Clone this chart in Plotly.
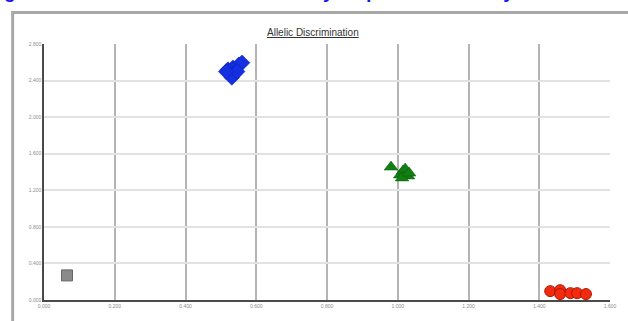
import plotly.graph_objects as go

# Allele 1 (X) vs Allele 2 (Y) fluorescence per genotype cluster
homo_y_x = [0.520, 0.534, 0.551, 0.560, 0.526, 0.540, 0.531, 0.546, 0.515]
homo_y_y = [2.520, 2.541, 2.574, 2.595, 2.466, 2.488, 2.434, 2.498, 2.498]

hetero_x = [0.981, 1.007, 1.015, 1.024, 1.029, 1.012, 1.021, 1.032]
hetero_y = [1.454, 1.368, 1.411, 1.389, 1.357, 1.335, 1.432, 1.389]

homo_x_x = [1.431, 1.459, 1.459, 1.488, 1.507, 1.532]
homo_x_y = [0.097, 0.108, 0.065, 0.075, 0.075, 0.065]

ntc_x = [0.065]
ntc_y = [0.269]

x_ticks = [0.0, 0.2, 0.4, 0.6, 0.8, 1.0, 1.2, 1.4, 1.6]
y_ticks = [0.0, 0.4, 0.8, 1.2, 1.6, 2.0, 2.4, 2.8]

fig = go.Figure()

fig.add_trace(go.Scatter(
    x=ntc_x, y=ntc_y, mode="markers",
    marker=dict(symbol="square", size=11, color="#8a8a8a",
                line=dict(color="#666666", width=1)),
))
fig.add_trace(go.Scatter(
    x=homo_y_x, y=homo_y_y, mode="markers",
    marker=dict(symbol="diamond", size=12, color="#1530e0",
                line=dict(color="#0a1ab0", width=0.5)),
))
fig.add_trace(go.Scatter(
    x=hetero_x, y=hetero_y, mode="markers",
    marker=dict(symbol="triangle-up", size=12, color="#137f13",
                line=dict(color="#0b5e0b", width=0.5)),
))
fig.add_trace(go.Scatter(
    x=homo_x_x, y=homo_x_y, mode="markers",
    marker=dict(symbol="circle", size=11, color="#f22a10",
                line=dict(color="#b01500", width=1)),
))

tick_font = dict(family="Liberation Sans, Arial, sans-serif", size=5, color="#8c8c8c")

fig.update_layout(
    width=628, height=321,
    margin=dict(l=44, r=15, t=44, b=17),
    paper_bgcolor="white", plot_bgcolor="white",
    showlegend=False,
    xaxis=dict(
        range=[0, 1.6], tickvals=x_ticks, tickformat=".3f",
        showgrid=True, gridcolor="#b4b4b4", gridwidth=1.5,
        showline=True, linecolor="#4a4a4a", linewidth=1.5,
        zeroline=False, ticks="", tickfont=tick_font,
    ),
    yaxis=dict(
        range=[0, 2.8], tickvals=y_ticks, tickformat=".3f",
        showgrid=True, gridcolor="#e2e2e2", gridwidth=1.5,
        showline=True, linecolor="#4a4a4a", linewidth=1.5,
        zeroline=False, ticks="", tickfont=tick_font,
    ),
    shapes=[
        # grey panel frame around the chart
        dict(type="rect", xref="paper", yref="paper",
             x0=-0.0554, x1=1.06, y0=-0.2, y1=1.123,
             line=dict(color="#a8a8a8", width=3), layer="below"),
    ],
    annotations=[
        dict(text="<u>Allelic Discrimination</u>", xref="paper", yref="paper",
             x=0.476, y=1.046, xanchor="center", yanchor="middle",
             showarrow=False,
             font=dict(family="Liberation Sans, Arial, sans-serif", size=10, color="#333333")),
        dict(text="<b>Figure 3: Allelic Discrimination Plot by TaqMan SNP Assay</b>",
             xref="paper", yref="paper", x=-0.105, y=1.156,
             xanchor="left", yanchor="bottom", showarrow=False,
             font=dict(family="Liberation Sans, Arial, sans-serif", size=19, color="#1414e6")),
    ],
)

fig.write_html("out.html")
